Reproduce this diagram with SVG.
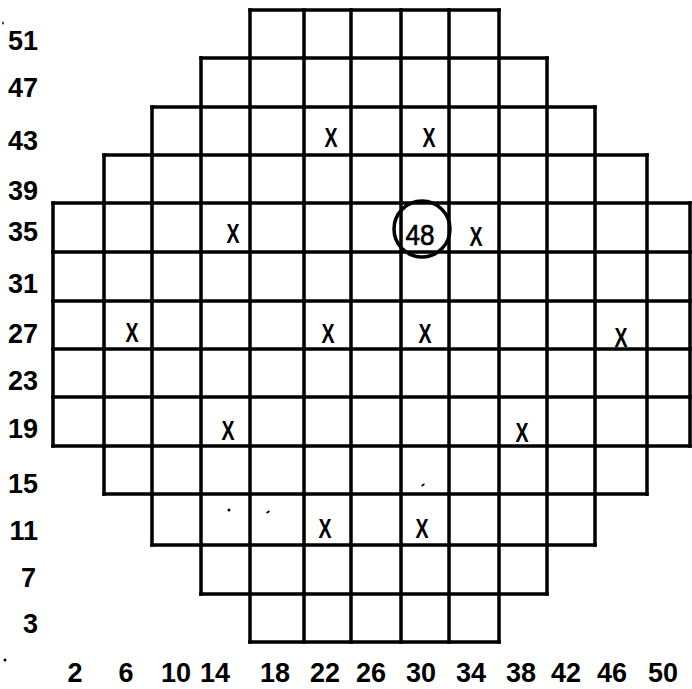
<svg xmlns="http://www.w3.org/2000/svg" width="692" height="689" viewBox="0 0 692 689">
<style>
.grid{fill:none;stroke:#000;stroke-width:3.5;stroke-linecap:square}
.lbl{font-family:"Liberation Sans",Arial,sans-serif;font-size:27px;font-weight:bold;fill:#000}
.row{text-anchor:end}
.col{text-anchor:middle}
.x{font-family:"Liberation Sans",Arial,sans-serif;font-size:28px;font-weight:bold;fill:#000;text-anchor:middle}
.num{font-family:"Liberation Sans",Arial,sans-serif;font-size:29px;fill:#000;text-anchor:middle;stroke:#000;stroke-width:0.6}
.ring{fill:none;stroke:#000;stroke-width:3.5}
.speck{fill:#000}
</style>
<rect width="692" height="689" fill="#fff"/>
<g id="connectors" class="grid">
<path d="M250 10H499M201 58H547M152 107H595M104 155H647M53 203H690M53 252H690M53 301H690M53 349H690M53 397H690M53 446H690M104 494H647M152 545H595M201 594H547M250 642H499"/>
<path d="M53 203V446M104 155V494M152 107V545M201 58V594M250 10V642M304 10V642M351 10V642M401 10V642M449 10V642M499 10V642M547 58V594M595 107V545M647 155V494M690 203V446"/>
</g>
<g id="row-labels" class="lbl row">
<text x="38" y="50">51</text>
<text x="38" y="97">47</text>
<text x="38" y="150">43</text>
<text x="38" y="200">39</text>
<text x="38" y="241">35</text>
<text x="38" y="293">31</text>
<text x="38" y="343">27</text>
<text x="38" y="390">23</text>
<text x="38" y="438">19</text>
<text x="38" y="493">15</text>
<text x="38" y="540">11</text>
<text x="36" y="587">7</text>
<text x="38" y="633">3</text>
</g>
<g id="col-labels" class="lbl col">
<text x="75" y="682">2</text>
<text x="126" y="682">6</text>
<text x="176" y="682">10</text>
<text x="215" y="682">14</text>
<text x="275" y="682">18</text>
<text x="325" y="682">22</text>
<text x="371" y="682">26</text>
<text x="421" y="682">30</text>
<text x="471" y="682">34</text>
<text x="521" y="682">38</text>
<text x="566" y="682">42</text>
<text x="612" y="682">46</text>
<text x="663" y="682">50</text>
</g>
<g id="marks" class="x">
<text transform="translate(331,147) scale(0.7,1)">X</text>
<text transform="translate(429,147) scale(0.7,1)">X</text>
<text transform="translate(233,243) scale(0.7,1)">X</text>
<text transform="translate(476,246) scale(0.7,1)">X</text>
<text transform="translate(132,342) scale(0.7,1)">X</text>
<text transform="translate(328,343) scale(0.7,1)">X</text>
<text transform="translate(425,343) scale(0.7,1)">X</text>
<text transform="translate(621,347) scale(0.7,1)">X</text>
<text transform="translate(228,440) scale(0.7,1)">X</text>
<text transform="translate(522,442) scale(0.7,1)">X</text>
<text transform="translate(325,538) scale(0.7,1)">X</text>
<text transform="translate(422,538) scale(0.7,1)">X</text>
</g>
<g id="node-48">
<circle class="ring" cx="422" cy="229" r="28"/>
<text class="num" transform="translate(420,245) scale(0.9,1)">48</text>
</g>
<g id="specks" class="speck">
<ellipse cx="229" cy="510" rx="1.5" ry="1.5"/>
<ellipse cx="268" cy="512" rx="2" ry="1" transform="rotate(-30 268 512)"/>
<ellipse cx="423" cy="485" rx="2" ry="1" transform="rotate(-40 423 485)"/>
<ellipse cx="5" cy="660" rx="1.5" ry="1.5"/>
<ellipse cx="3" cy="23" rx="0.8" ry="1.5"/>
</g>
</svg>
